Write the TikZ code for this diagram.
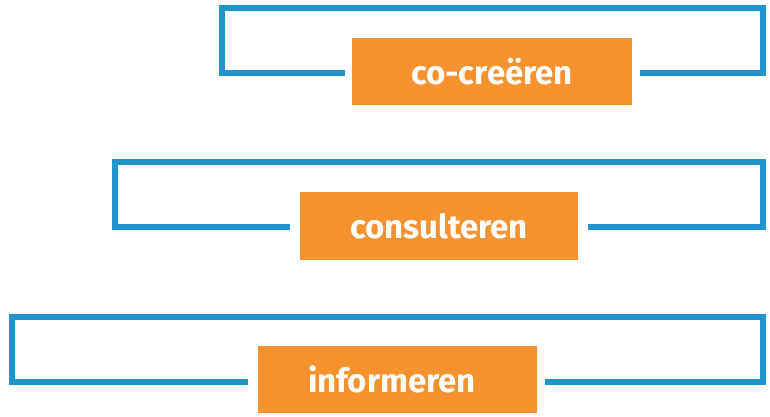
\documentclass[tikz,border=0pt]{standalone}
\usepackage{fontspec}
\setmainfont{Fira Sans}
\begin{document}
\begin{tikzpicture}[x=1pt,y=-1pt,
  frame/.style={draw=cyan!70!blue!85!black,line width=6pt,line join=miter},
  lbl/.style={fill=orange!85!yellow!90!red,text=white,font=\bfseries\fontsize{33}{36}\selectfont,inner sep=0pt}]
\definecolor{bl}{RGB}{30,150,205}
\definecolor{og}{RGB}{246,146,46}
\tikzset{frame/.append style={draw=bl},lbl/.append style={fill=og}}
\useasboundingbox (0,0) rectangle (770,417);
% frame 1
\coordinate (a1) at (345,73); \coordinate (b1) at (640,73);
\draw[frame] (a1) -- (222,73) -- (222,8) -- (763,8) -- (763,73) -- (b1);
\node[lbl,minimum width=280pt,minimum height=67pt] (n1) at (492,71.5) {co-creëren};
% frame 2
\coordinate (a2) at (290,227); \coordinate (b2) at (588,227);
\draw[frame] (a2) -- (115,227) -- (115,162) -- (763,162) -- (763,227) -- (b2);
\node[lbl,minimum width=278pt,minimum height=68pt] (n2) at (439,226) {consulteren};
% frame 3
\coordinate (a3) at (248,382); \coordinate (b3) at (545,382);
\draw[frame] (a3) -- (12,382) -- (12,317) -- (763,317) -- (763,382) -- (b3);
\node[lbl,minimum width=279pt,minimum height=67pt] (n3) at (397.5,379.5) {};
\node[text=white,font=\bfseries\fontsize{33}{36}\selectfont] (t3) at (392,379.5) {informeren};
\end{tikzpicture}
\end{document}
